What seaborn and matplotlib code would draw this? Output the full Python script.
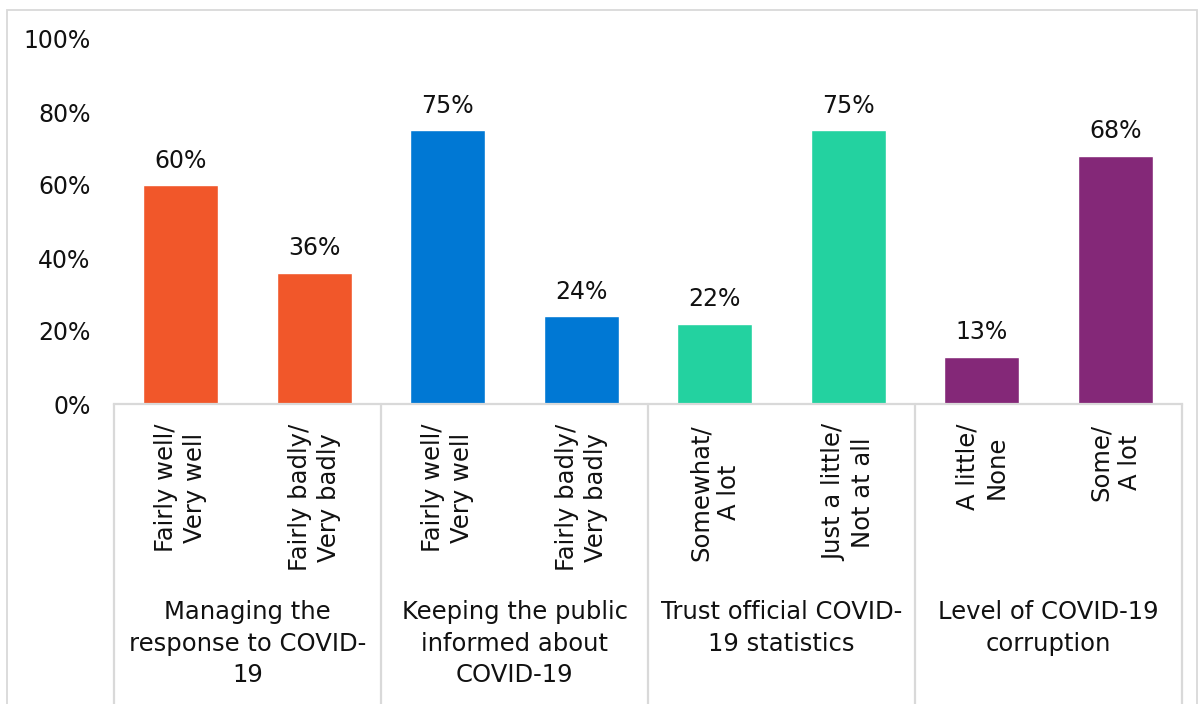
import matplotlib
matplotlib.use("Agg")
import matplotlib.pyplot as plt
import matplotlib.transforms as mtransforms
from matplotlib.patches import Rectangle
import seaborn as sns
import pandas as pd

# ---- data ----
bar_labels = ["Fairly well/\nVery well", "Fairly badly/\nVery badly",
              "Fairly well/\nVery well", "Fairly badly/\nVery badly",
              "Somewhat/\nA lot", "Just a little/\nNot at all",
              "A little/\nNone", "Some/\nA lot"]
groups = ["Managing the\nresponse to COVID-\n19",
          "Keeping the public\ninformed about\nCOVID-19",
          "Trust official COVID-\n19 statistics",
          "Level of COVID-19\ncorruption"]
bar_group = [0, 0, 1, 1, 2, 2, 3, 3]
values = [60, 36, 75, 24, 22, 75, 13, 68]
group_colors = ["#F1572A", "#0078D4", "#23D2A0", "#842878"]
y_ticks = [0, 20, 40, 60, 80, 100]
y_tick_labels = ["0%", "20%", "40%", "60%", "80%", "100%"]

sns.set_theme(style="white")
plt.rcParams["font.family"] = ["DejaVu Sans"]

df = pd.DataFrame({
    "key": [f"b{i}" for i in range(len(values))],
    "value": values,
    "group": [groups[g] for g in bar_group],
})

W, H = 1203, 704
fig = plt.figure(figsize=(W / 100, H / 100), dpi=100)
ax = fig.add_axes([114 / W, (H - 404) / H, (1182 - 114) / W, 365 / H])

sns.barplot(data=df, x="key", y="value", hue="group", hue_order=groups,
            palette=group_colors, dodge=False, width=0.56, legend=False,
            saturation=1, ax=ax)

ax.set_xlim(-0.5, len(values) - 0.5)
ax.set_ylim(0, 100)
ax.set_yticks(y_ticks)
ax.set_yticklabels(y_tick_labels, fontsize=17, color="#111111")
ax.tick_params(axis="y", length=0, pad=17)
ax.set_xticks([])
ax.set_xlabel("")
ax.set_ylabel("")
for s in ["left", "right", "top"]:
    ax.spines[s].set_visible(False)
ax.spines["bottom"].set_color("#D9D9D9")
ax.spines["bottom"].set_linewidth(1.6)

# value labels
for i, v in enumerate(values):
    ax.annotate(f"{v}%", (i, v), xytext=(0, 9), textcoords="offset points",
                ha="center", va="bottom", fontsize=17, color="#111111")

trans = mtransforms.blended_transform_factory(ax.transData, ax.transAxes)
px = 1 / 365.0
# bar category labels (rotated)
for i, lab in enumerate(bar_labels):
    ax.text(i, -20 * px, lab, transform=trans, rotation=90, ha="center",
            va="top", multialignment="center", fontsize=17.5,
            color="#111111", linespacing=1.25)

# group labels
for g, lab in enumerate(groups):
    ax.text(2 * g + 0.5, -196 * px, lab, transform=trans, ha="center",
            va="top", multialignment="center", fontsize=17.5,
            color="#111111", linespacing=1.4)

# separators
for k in range(len(groups) + 1):
    ax.plot([2 * k - 0.5, 2 * k - 0.5], [0, -300 * px], transform=trans,
            color="#D9D9D9", lw=1.6, clip_on=False)

# outer chart border (bottom edge lies below the figure)
fig.patches.append(Rectangle((7 / W, -5 / H), (1197 - 7) / W, (H - 10 + 5) / H,
                             transform=fig.transFigure, fill=False,
                             edgecolor="#D9D9D9", lw=1.3))

fig.savefig("out.png", dpi=100)
